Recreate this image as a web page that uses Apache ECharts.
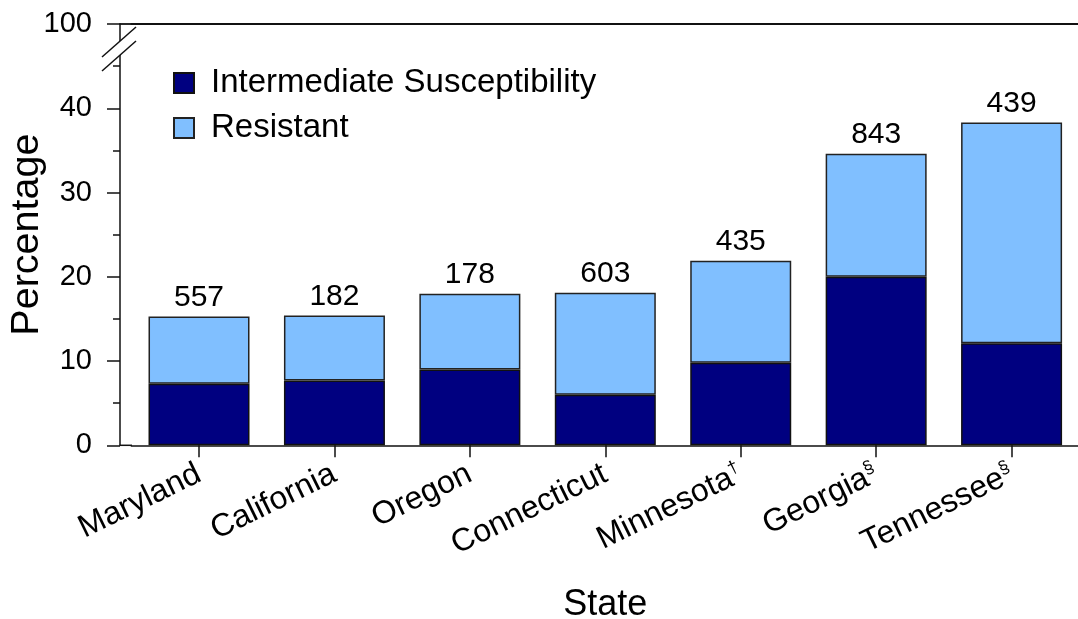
<!DOCTYPE html>
<html><head><meta charset="utf-8">
<script src="https://cdn.jsdelivr.net/npm/echarts@6/dist/echarts.min.js"></script>
<style>html,body{margin:0;padding:0;background:#fff}#c{width:1078px;height:619px}</style>
</head><body><div id="c"></div>
<script>
const states = ['Maryland','California','Oregon','Connecticut','Minnesota','Georgia','Tennessee'];
const footnotes = ['','','','','†','§','§'];
const intermediate = [7.3, 7.7, 9.0, 6.0, 9.8, 20.0, 12.1];
const resistant = [8.0, 7.7, 9.0, 12.1, 12.1, 14.6, 26.2];
const sampleSizes = [557, 182, 178, 603, 435, 843, 439];
const yTickLabels = ['0','10','20','30','40','100'];

const FF = "'Liberation Sans', Arial, Helvetica, sans-serif";
const AX = '#111';
const chart = echarts.init(document.getElementById('c'), null, {renderer:'canvas'});
chart.setOption({
  animation:false,
  backgroundColor:'#fff',
  textStyle:{fontFamily:FF},
  grid:{left:131.3, width:948, top:24, bottom:173.7, containLabel:false, outerBoundsMode:'none'},
  legend:{
    orient:'vertical', left:173, top:66, padding:0, itemGap:11,
    itemWidth:20, itemHeight:20, icon:'rect',
    textStyle:{fontSize:33, color:'#000', fontFamily:FF, lineHeight:34, padding:[0,0,0,12]},
    data:['Intermediate Susceptibility','Resistant']
  },
  xAxis:[{
    type:'category', data:states,
    axisLine:{show:true, lineStyle:{color:AX, width:1.5}},
    axisTick:{show:true, alignWithLabel:true, length:12, lineStyle:{color:AX, width:1.5}},
    axisLabel:{
      rotate:26, margin:27, interval:0, color:'#000',
      formatter:(v,i)=> footnotes[i] ? '{n|'+v+'}{s|'+footnotes[i]+'}' : '{n|'+v+'}',
      rich:{ n:{fontSize:32, fontFamily:FF, color:'#000'}, s:{fontSize:18, fontFamily:FF, color:'#000', verticalAlign:'top'} }
    },
    name:'State', nameLocation:'middle', nameGap:142,
    nameTextStyle:{fontSize:36, color:'#000', fontFamily:FF}
  },{
    type:'category', position:'top', data:states,
    axisLine:{show:true, lineStyle:{color:AX, width:1.8}},
    axisTick:{show:false}, axisLabel:{show:false}
  }],
  yAxis:{
    type:'value', min:0, max:50, interval:10, offset:11.3,
    axisLine:{show:true, lineStyle:{color:AX, width:1.5}},
    axisTick:{show:true, length:13, lineStyle:{color:AX, width:1.5}},
    minorTick:{show:true, splitNumber:2, length:7, lineStyle:{color:AX, width:1.5}},
    splitLine:{show:false},
    axisLabel:{margin:28, fontSize:29, color:'#000', fontFamily:FF,
      formatter:(v)=> yTickLabels[Math.round(v/10)]},
    name:'Percentage', nameLocation:'middle', nameGap:73, nameMoveOverlap:false,
    nameTextStyle:{fontSize:39.5, color:'#000', fontFamily:FF}
  },
  series:[
    {name:'Intermediate Susceptibility', type:'bar', stack:'t', data:intermediate, barWidth:101,
     itemStyle:{color:'#000080', borderColor:'#111', borderWidth:1.5}},
    {name:'Resistant', type:'bar', stack:'t', data:resistant, barWidth:101,
     itemStyle:{color:'#80bfff', borderColor:'#222', borderWidth:1.5},
     label:{show:true, position:'top', distance:4, fontSize:30, color:'#000', fontFamily:FF,
       formatter:(p)=> String(sampleSizes[p.dataIndex])}}
  ],
  graphic:[
    {type:'line', shape:{x1:119.5, y1:445.3, x2:132, y2:445.3}, style:{stroke:AX, lineWidth:1.5}, z:100},
    {type:'line', shape:{x1:119.5, y1:24, x2:132, y2:24}, style:{stroke:AX, lineWidth:1.8}, z:100},
    {type:'polygon', shape:{points:[[102,57],[136,27],[136,41],[102,71]]}, style:{fill:'#fff'}, z:100},
    {type:'line', shape:{x1:102, y1:57, x2:136, y2:27}, style:{stroke:AX, lineWidth:1.5}, z:101},
    {type:'line', shape:{x1:102, y1:71, x2:136, y2:41}, style:{stroke:AX, lineWidth:1.5}, z:101}
  ]
});
</script></body></html>
